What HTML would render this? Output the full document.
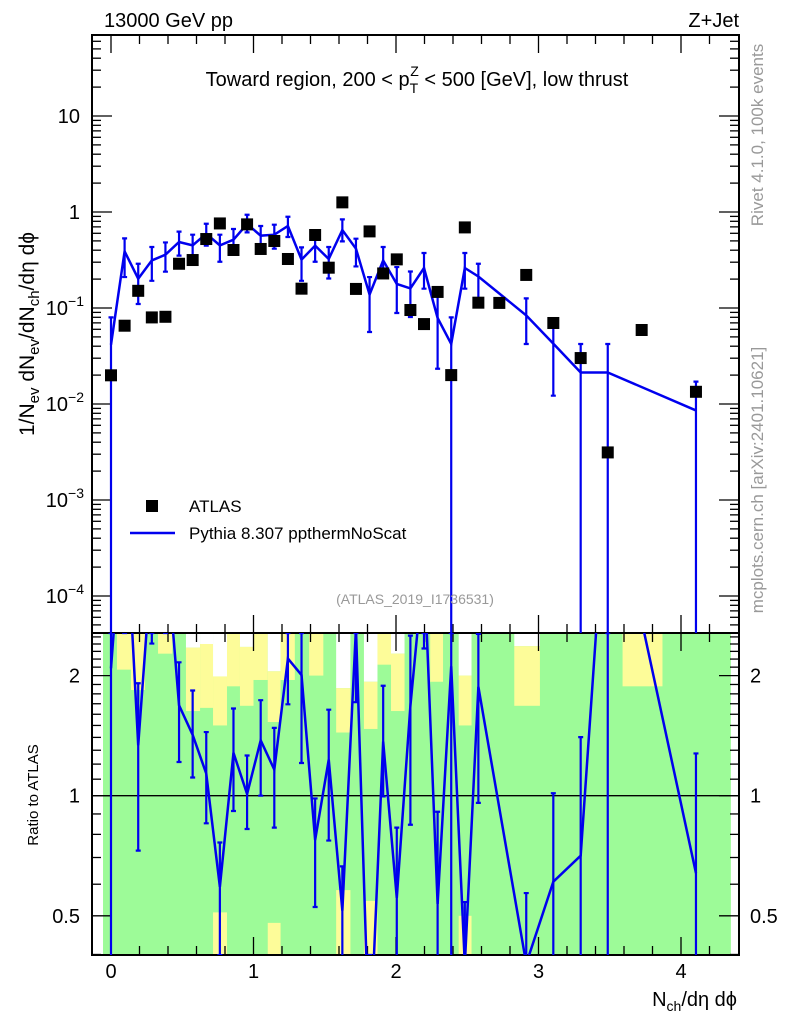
<!DOCTYPE html>
<html><head><meta charset="utf-8"><style>
html,body{margin:0;padding:0;background:#fff;}
svg{display:block;font-family:"Liberation Sans",sans-serif;}
</style></head><body>
<svg id="chart" width="786" height="1024" xmlns="http://www.w3.org/2000/svg">
<g id="bands"></g>
<g id="axes"></g>
<g id="marks"></g>
<text x="104" y="27" font-size="20">13000 GeV pp</text>
<text x="739" y="27" font-size="20" text-anchor="end">Z+Jet</text>
<text x="417" y="86" font-size="20" text-anchor="middle">Toward region, 200 &lt; p<tspan font-size="14" dy="7">T</tspan><tspan font-size="14" dx="-8" dy="-17">Z</tspan><tspan dy="10"> &lt; 500 [GeV], low thrust</tspan></text>
<text transform="translate(34,334) rotate(-90)" font-size="21" text-anchor="middle">1/N<tspan font-size="15" dy="5">ev</tspan><tspan dy="-5"> dN</tspan><tspan font-size="15" dy="5">ev</tspan><tspan dy="-5">/dN</tspan><tspan font-size="15" dy="5">ch</tspan><tspan dy="-5">/dη dϕ</tspan></text>
<text transform="translate(38,795) rotate(-90)" font-size="15" text-anchor="middle">Ratio to ATLAS</text>
<text x="737" y="1006" font-size="20" text-anchor="end">N<tspan font-size="14" dy="5">ch</tspan><tspan dy="-5">/dη dϕ</tspan></text>
<text transform="translate(763,135) rotate(-90)" font-size="17" fill="#999" text-anchor="middle">Rivet 4.1.0,  100k events</text>
<text transform="translate(763,480) rotate(-90)" font-size="17" fill="#999" text-anchor="middle">mcplots.cern.ch [arXiv:2401.10621]</text>
<text x="415" y="604" font-size="14" fill="#999" text-anchor="middle">(ATLAS_2019_I1736531)</text>
<rect x="146" y="500" width="12" height="12" fill="#000"/>
<text x="189" y="512" font-size="17">ATLAS</text>
<line x1="130" y1="533" x2="175" y2="533" stroke="#0000ee" stroke-width="2.5"/>
<text x="189" y="539" font-size="17">Pythia 8.307 ppthermNoScat</text>
</svg>
<script>
const dataX = [0,0.0955,0.191,0.2865,0.382,0.4775,0.573,0.6685,0.764,0.8595,0.955,1.0505,1.146,1.2415,1.337,1.4325,1.528,1.6235,1.719,1.8145,1.91,2.0055,2.101,2.1965,2.292,2.3875,2.483,2.578,2.725,2.914,3.104,3.296,3.486,3.724,4.105];
const dataY = [0.0199,0.0654,0.151,0.0798,0.081,0.289,0.316,0.523,0.76,0.402,0.743,0.412,0.499,0.324,0.159,0.576,0.263,1.26,0.158,0.628,0.229,0.321,0.0953,0.068,0.147,0.020,0.691,0.1136,0.113,0.221,0.0698,0.0301,0.00313,0.059,0.0134];
const mcX = [0,0.0955,0.191,0.2865,0.382,0.4775,0.573,0.6685,0.764,0.8595,0.955,1.0505,1.146,1.2415,1.337,1.4325,1.528,1.6235,1.719,1.8145,1.91,2.0055,2.101,2.1965,2.292,2.3875,2.483,2.578,2.914,3.104,3.296,3.486,4.105];
const mcY = [0.0415,0.389,0.202,0.313,0.359,0.487,0.449,0.594,0.449,0.515,0.750,0.567,0.580,0.715,0.319,0.446,0.324,0.649,0.415,0.138,0.313,0.178,0.160,0.261,0.0787,0.0422,0.261,0.213,0.0838,0.0425,0.0213,0.0213,0.00857];
const mcHi = [0.0798,0.531,0.289,0.432,0.482,0.624,0.580,0.755,0.580,0.665,0.937,0.715,0.738,0.893,0.428,0.567,0.432,0.838,0.527,0.210,0.432,0.267,0.240,0.374,0.134,0.0798,0.374,0.289,0.126,0.0708,0.0422,0.0422,0.0171];
const mcLo = [1e-6,0.210,0.110,0.192,0.239,0.351,0.351,0.446,0.303,0.368,0.613,0.412,0.415,0.549,0.192,0.303,0.203,0.494,0.271,0.0562,0.228,0.0887,0.0806,0.159,0.0233,1e-6,0.159,0.109,0.0422,0.0122,1e-6,1e-6,1e-6];
// ratio error band bins: [xlo, xhi, whiteTo, yellowTo, bottomYellowFrom]
const bandLo = [0.042,0.14,0.33,0.526,0.625,0.716,0.814,0.905,1.0,1.10,1.19,1.39,1.58,1.775,1.87,1.965,2.24,2.44,2.83,3.59];
const bandHi = [0.14,0.239,0.43,0.625,0.716,0.814,0.905,1.0,1.10,1.19,1.29,1.49,1.68,1.87,1.965,2.06,2.33,2.53,3.01,3.87];
const bandWhite = [null,null,null,2.35,2.4,1.99,null,2.36,null,2.05,null,null,1.86,1.93,null,2.27,null,2.0,2.37,null];
const bandYellow = [2.07,1.84,2.27,1.63,1.66,1.50,1.88,1.68,1.95,1.53,1.95,2.0,1.44,1.47,2.13,1.63,1.93,1.5,1.68,1.88];
const bandBottom = [null,null,null,null,null,0.51,null,null,null,0.48,null,null,0.58,0.545,null,null,null,0.5,null,null];
const bandRange = [-0.056,4.35];

const NS="http://www.w3.org/2000/svg";
const L=92,R=739,T=35,B=633,RT=633,RB=955;
const xs=v=>111+142.5*v;
const ys=v=>116-96*(Math.log10(v)-1);
const rs=v=>795.7-399*Math.log10(v);
const clampR=y=>Math.max(RT,Math.min(RB,y));
function el(tag,attrs,parent){const e=document.createElementNS(NS,tag);for(const k in attrs)e.setAttribute(k,attrs[k]);parent.appendChild(e);return e;}
const gB=document.getElementById('bands'),gA=document.getElementById('axes'),gM=document.getElementById('marks');

let g=el('rect',{x:xs(bandRange[0]),y:RT,width:xs(bandRange[1])-xs(bandRange[0]),height:RB-RT,fill:'#9dfb98'},gB);


for(let i=0;i<bandLo.length;i++){
  const x0=xs(bandLo[i]),w=xs(bandHi[i])-x0;
  const wy=bandWhite[i]?rs(bandWhite[i]):RT;
  if(bandWhite[i]){const r=el('rect',{x:x0,y:RT,width:w,height:wy-RT,fill:'#fff'},gB);
    
    }
  const yy=el('rect',{x:x0,y:wy,width:w,height:rs(bandYellow[i])-wy,fill:'#fdfc99'},gB);
  
  
  if(bandBottom[i]){const b=el('rect',{x:x0,y:rs(bandBottom[i]),width:w,height:RB-rs(bandBottom[i]),fill:'#fdfc99'},gB);
    
    }
}

for(const [t,b,n] of [[T,B,'main-frame'],[RT,RB,'ratio-frame']]){
  const f=el('rect',{x:L,y:t,width:R-L,height:b-t,fill:'none',stroke:'#000','stroke-width':2},gA);
  
  
}
for(let v=0;v<=4.3;v=Math.round((v+0.2)*10)/10){
  const major=Math.abs(v-Math.round(v))<1e-6, len=major?18:9, x=xs(v);
  for(const [yt,yb] of [[T,B],[RT,RB]]){
    el('line',{x1:x,y1:yt,x2:x,y2:yt+len,stroke:'#000','stroke-width':1.3},gA);
    el('line',{x1:x,y1:yb,x2:x,y2:yb-len,stroke:'#000','stroke-width':1.3},gA);
  }
  if(major){const t=el('text',{x:x,y:978,'font-size':20,'text-anchor':'middle'},gA);t.textContent=String(Math.round(v));
    
    }
}
for(let d=-5;d<=1;d++){
  for(let m=1;m<10;m++){
    const v=m*Math.pow(10,d),y=ys(v);
    if(y<T||y>B)continue;
    const len=m==1?20:9;
    el('line',{x1:L,y1:y,x2:L+len,y2:y,stroke:'#000','stroke-width':1.3},gA);
    el('line',{x1:R,y1:y,x2:R-len,y2:y,stroke:'#000','stroke-width':1.3},gA);
    if(m==1){
      const t=el('text',{x:80,y:y+7,'font-size':20,'text-anchor':'end'},gA);
      
      
      if(d==0)t.textContent='1';else if(d==1)t.textContent='10';
      else{t.textContent='10';const s=el('tspan',{dy:-9,'font-size':14},t);s.textContent='−'+(-d);t.setAttribute('x',84);}
    }
  }
}
for(let k=4;k<=25;k++){
  const v=k/10,y=rs(v);if(y<RT||y>RB)continue;
  const major=(k==5||k==10||k==20),len=major?20:9;
  el('line',{x1:L,y1:y,x2:L+len,y2:y,stroke:'#000','stroke-width':1.3},gA);
  el('line',{x1:R,y1:y,x2:R-len,y2:y,stroke:'#000','stroke-width':1.3},gA);
  if(major){
    const lab=k==5?'0.5':String(k/10);
    const t=el('text',{x:80,y:y+7,'font-size':20,'text-anchor':'end'},gA);t.textContent=lab;
    
    
    const t2=el('text',{x:750,y:y+7,'font-size':20},gA);t2.textContent=lab;
    
    
  }
}
const one=el('line',{x1:L,y1:rs(1),x2:R,y2:rs(1),stroke:'#000','stroke-width':1.3},gA);



const defs=el('defs',{},gM);
const cp=el('clipPath',{id:'cm'},defs);el('rect',{x:L,y:T,width:R-L,height:B-T},cp);
const cr=el('clipPath',{id:'cr'},defs);el('rect',{x:L,y:RT,width:R-L,height:RB-RT},cr);
const gMain=el('g',{'clip-path':'url(#cm)'},gM),gRat=el('g',{'clip-path':'url(#cr)'},gM);

const pts=mcX.map((x,i)=>xs(x)+','+ys(mcY[i])).join(' ');
const pl=el('polyline',{points:pts,fill:'none',stroke:'#0000ee','stroke-width':2.5},gMain);


function errbar(parent,x,y1,y2,name){
  const e=el('path',{d:`M${x},${y1}V${y2}M${x-2.5},${y1}h5M${x-2.5},${y2}h5`,stroke:'#0000ee','stroke-width':2.2,fill:'none'},parent);
  
  
}
mcX.forEach((x,i)=>errbar(gMain,xs(x),ys(mcHi[i]),Math.min(ys(mcLo[i]),B+5),'pythia-error-bar'));
dataX.forEach((x,i)=>{
  const r=el('rect',{x:xs(x)-6,y:ys(dataY[i])-6,width:12,height:12,fill:'#000'},gMain);
  
  
});
const rp=[];
mcX.forEach((x,i)=>{
  const j=dataX.indexOf(x);if(j<0)return;
  const d=dataY[j];
  rp.push(xs(x)+','+rs(mcY[i]/d));
  errbar(gRat,xs(x),clampR(rs(mcHi[i]/d)),Math.min(rs(mcLo[i]/d),RB+5),'ratio-error-bar');
});
const rl=el('polyline',{points:rp.join(' '),fill:'none',stroke:'#0000ee','stroke-width':2.5},gRat);


</script>
</body></html>
